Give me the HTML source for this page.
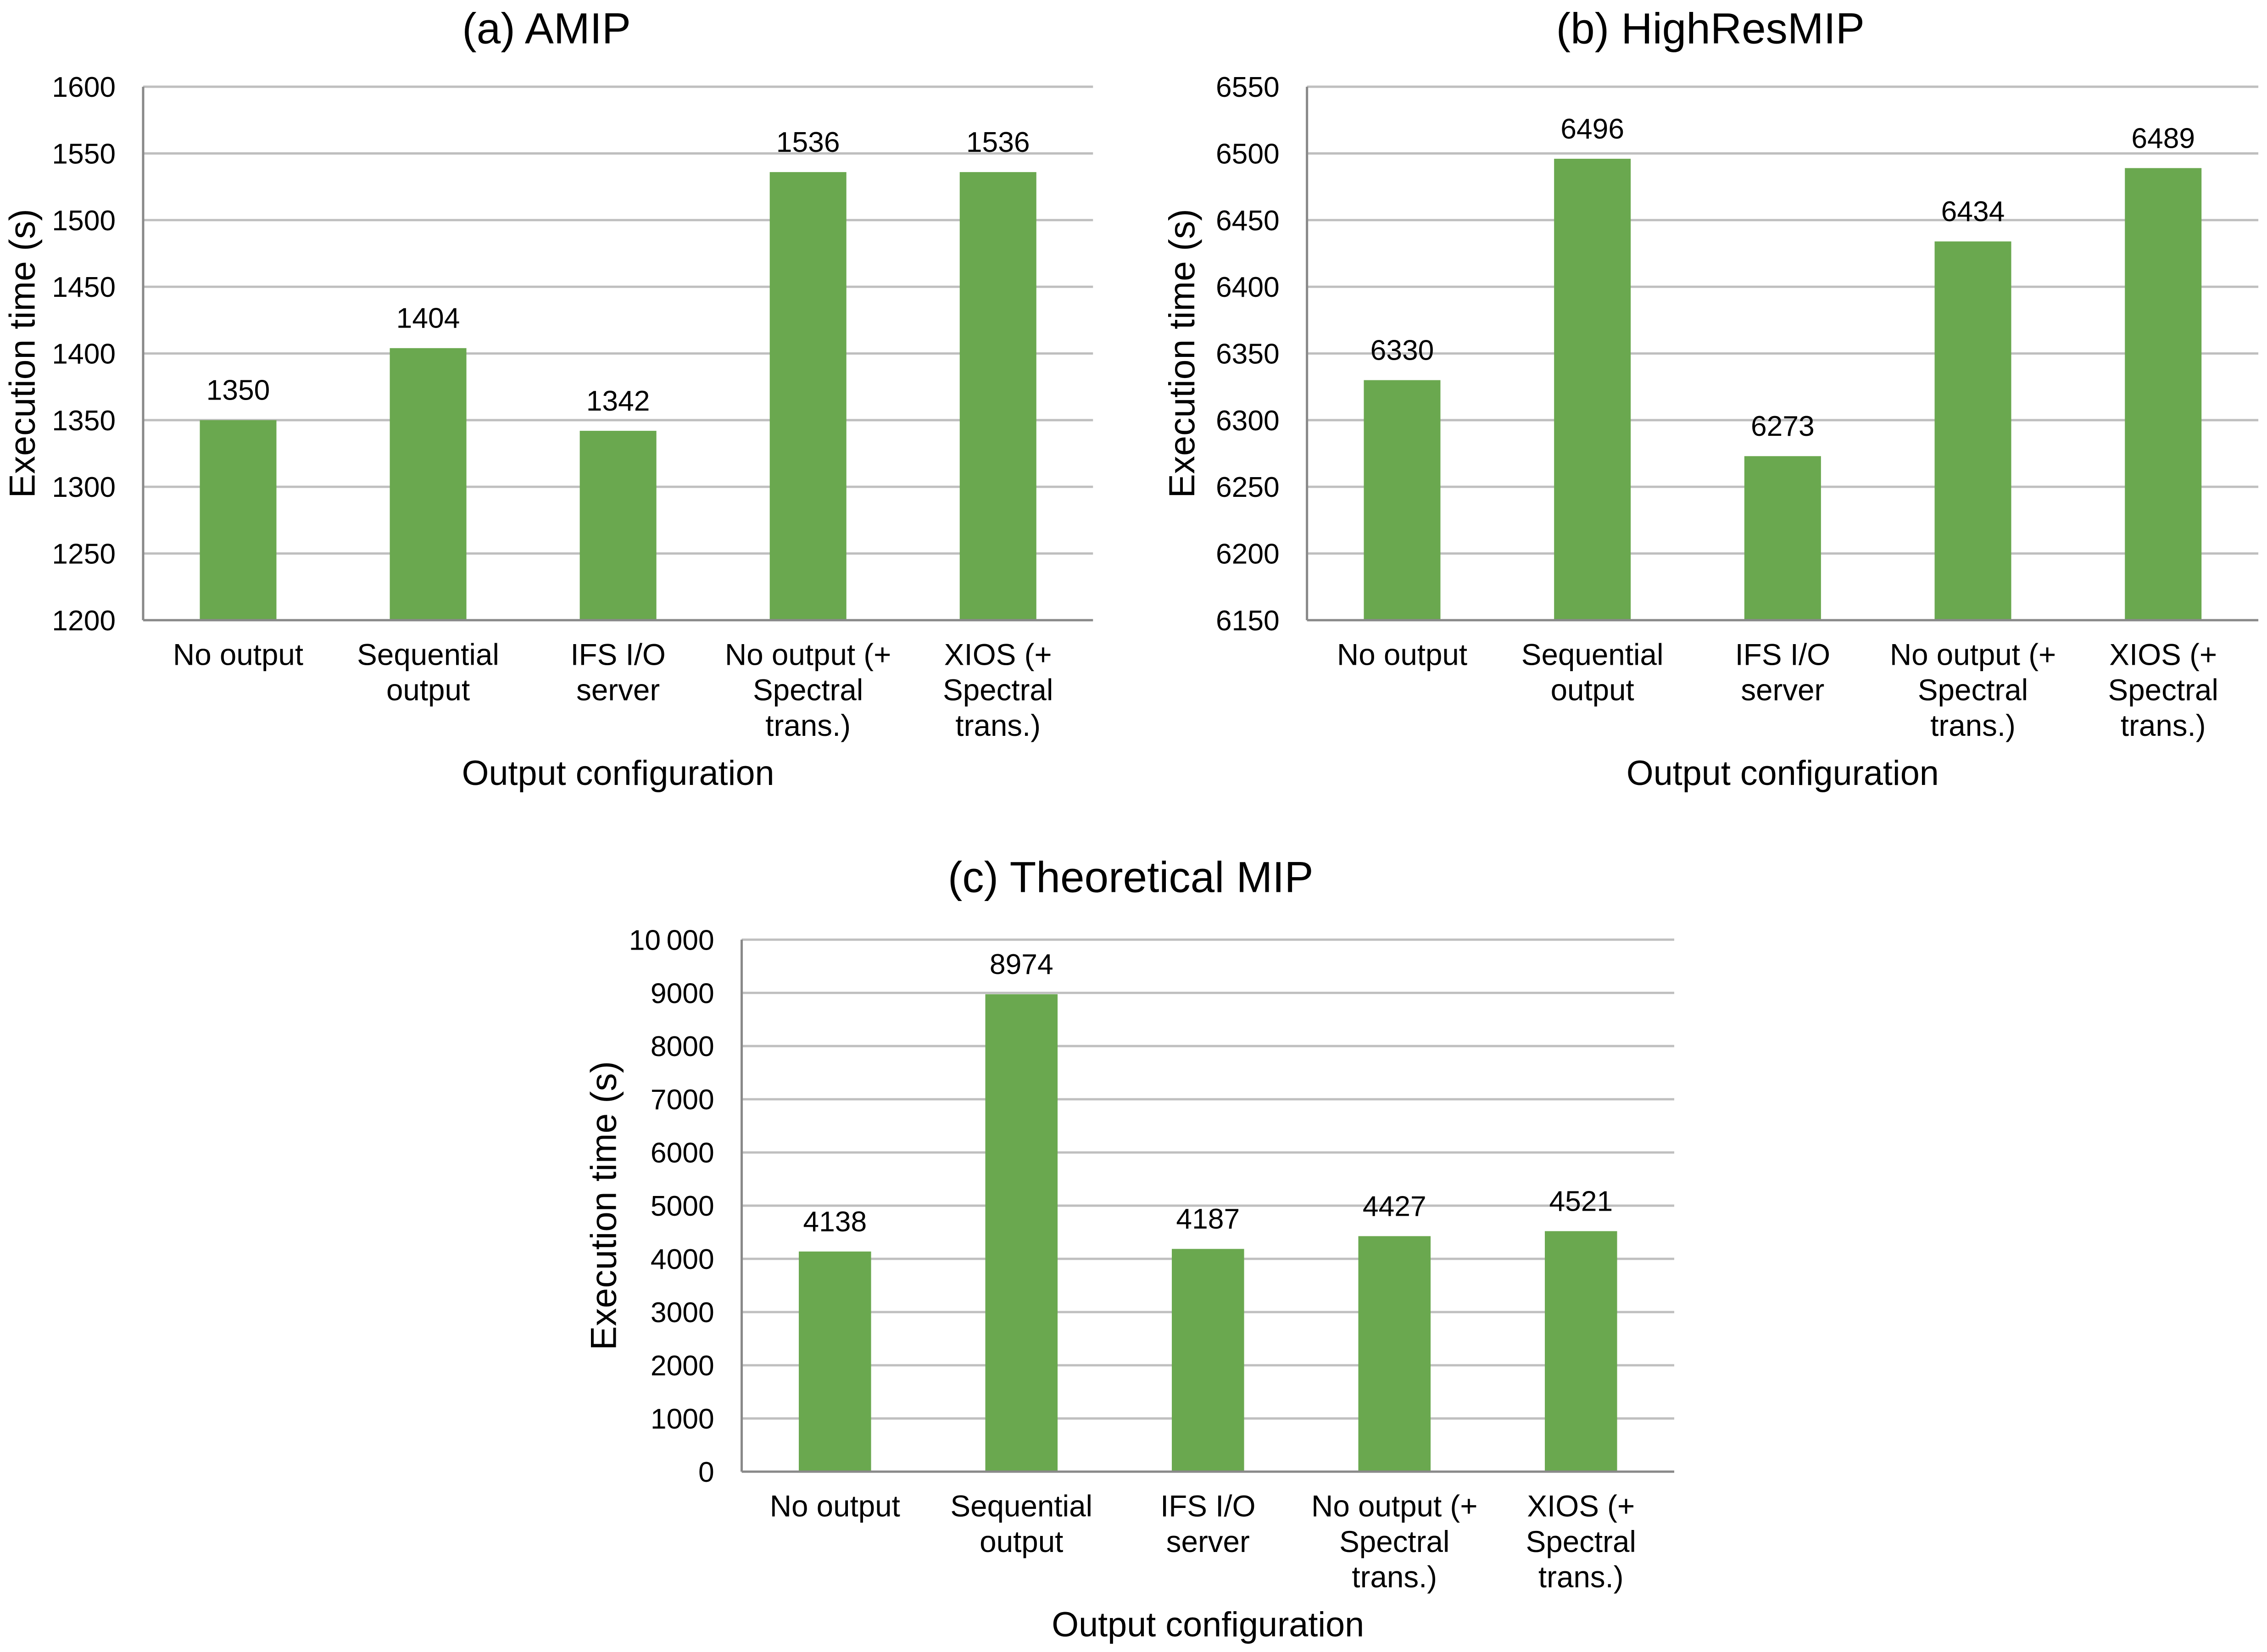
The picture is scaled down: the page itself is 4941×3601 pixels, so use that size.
<!DOCTYPE html>
<html><head><meta charset="utf-8"><style>
html,body{margin:0;padding:0;background:#fff}
svg{display:block}
text{font-family:"Liberation Sans",Arial,sans-serif;fill:#000}
</style></head><body>
<svg id="root" xmlns="http://www.w3.org/2000/svg" width="4941" height="3601" viewBox="0 0 1568 1142.75" preserveAspectRatio="none">
<rect width="1568" height="1142.75" fill="#fff"/>
</svg>
<script>
const categories = [["No output"],["Sequential","output"],["IFS I/O","server"],["No output (+","Spectral","trans.)"],["XIOS (+","Spectral","trans.)"]];
const amipValues = [1350, 1404, 1342, 1536, 1536];
const amipTicks = [1200,1250,1300,1350,1400,1450,1500,1550,1600];
const hrValues = [6330, 6496, 6273, 6434, 6489];
const hrTicks = [6150,6200,6250,6300,6350,6400,6450,6500,6550];
const tmValues = [4138, 8974, 4187, 4427, 4521];
const tmTicks = [0,1000,2000,3000,4000,5000,6000,7000,8000,9000,10000];
const tmTickLabels = ["0","1000","2000","3000","4000","5000","6000","7000","8000","9000","10\u2009000"];

const NS = "http://www.w3.org/2000/svg";
const root = document.getElementById('root');
function mk(tag, attrs, parent, text){
  const e = document.createElementNS(NS, tag);
  for (const k in attrs) e.setAttribute(k, attrs[k]);
  if (text !== undefined) e.textContent = text;
  parent.appendChild(e);
  return e;
}
function chart(cfg){
  const g = mk('g', {}, root);
  
  
  const {L,R,T,B,values,ticks,labels} = cfg;
  const min = ticks[0], max = ticks[ticks.length-1];
  const y = v => B - (v - min) / (max - min) * (B - T);
  const band = (R - L) / values.length;
  const x = i => L + band * (i + 0.5);
  const t = mk('text', {x: cfg.titleX, y: cfg.titleY, 'font-size': 30, 'text-anchor': 'middle'}, g, cfg.title);
  
  
  ticks.forEach((v, i) => {
    const yy = y(v);
    if (i > 0) {
      const gl = mk('line', {x1: L, x2: R, y1: yy, y2: yy, stroke: '#bfbfbf', 'stroke-width': 1.6}, g);
      
      
    }
    const tl = mk('text', {x: L - 19, y: yy + 7, 'font-size': 19.8, 'text-anchor': 'end'}, g, labels ? labels[i] : String(v));
    
    
  });
  values.forEach((v, i) => {
    const bw = cfg.barW;
    const r = mk('rect', {x: x(i) - bw/2, y: y(v), width: bw, height: B - y(v), fill: '#6aa84f'}, g);
    
    
    const vl = mk('text', {x: x(i), y: y(v) - 14, 'font-size': 19.8, 'text-anchor': 'middle'}, g, String(v));
    
    
    categories[i].forEach((line, j) => {
      const cl = mk('text', {x: x(i), y: B + 31 + j * 24.5, 'font-size': 20.8, 'text-anchor': 'middle'}, g, line);
      
      
    });
  });
  const ax = mk('line', {x1: L, x2: R, y1: B, y2: B, stroke: '#898989', 'stroke-width': 1.6}, g);
  
  
  const ay = mk('line', {x1: L, x2: L, y1: T, y2: B, stroke: '#898989', 'stroke-width': 1.6}, g);
  
  
  const yt = mk('text', {x: 0, y: 0, 'font-size': 25, 'text-anchor': 'middle', transform: `translate(${cfg.ylX},${(T+B)/2}) rotate(-90)`}, g, 'Execution time (s)');
  
  
  const xt = mk('text', {x: (L+R)/2, y: B + 114, 'font-size': 24, 'text-anchor': 'middle'}, g, 'Output configuration');
  
  
}
chart({name:'chart-amip', title:'(a) AMIP', titleX:378, titleY:30, L:99, R:756, T:60, B:429, values:amipValues, ticks:amipTicks, barW:53, ylX:24});
chart({name:'chart-highresmip', title:'(b) HighResMIP', titleX:1183, titleY:30, L:904, R:1562, T:60, B:429, values:hrValues, ticks:hrTicks, barW:53, ylX:826});
chart({name:'chart-theoretical-mip', title:'(c) Theoretical MIP', titleX:782, titleY:617, L:513, R:1158, T:650, B:1018, values:tmValues, ticks:tmTicks, labels:tmTickLabels, barW:50, ylX:426});
</script>
</body></html>
